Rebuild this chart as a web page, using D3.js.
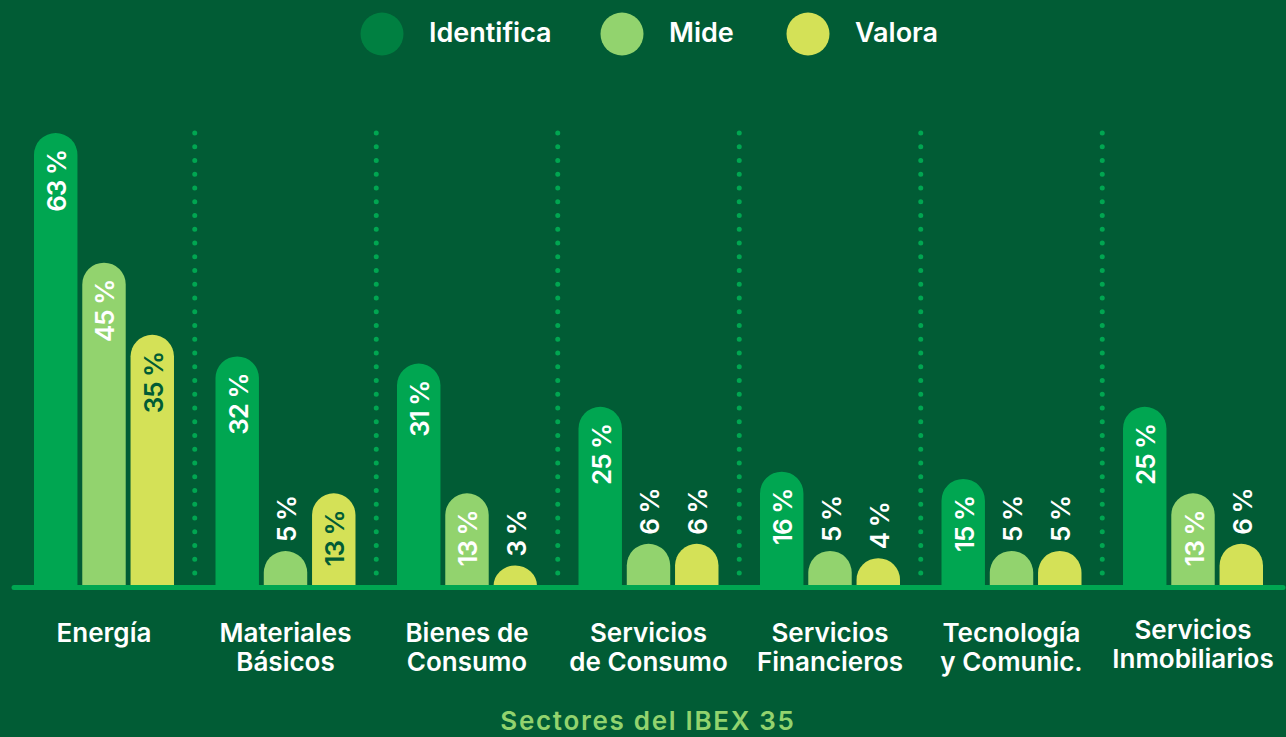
<!DOCTYPE html>
<html><head><meta charset="utf-8">
<script src="https://cdn.jsdelivr.net/npm/d3@7"></script>
<style>
html,body{margin:0;padding:0;background:#015c35;}
svg{display:block;font-family:Inter,"Noto Sans",sans-serif;}
</style></head><body>
<svg id="chart" width="1286" height="737"></svg>
<script>
const categories = [["Energía"],["Materiales","Básicos"],["Bienes de","Consumo"],["Servicios","de Consumo"],["Servicios","Financieros"],["Tecnología","y Comunic."],["Servicios","Inmobiliarios"]];
const seriesNames = ["Identifica","Mide","Valora"];
const identifica = [63,32,31,25,16,15,25];
const mide = [45,5,13,6,5,5,13];
const valora = [35,13,3,6,4,5,6];
const xTitle = "Sectores del IBEX 35";

const seriesValues = [identifica, mide, valora];
const barColors = ["#00a651","#92d36e","#d4e157"];
const legendColors = ["#008041","#92d36e","#d4e157"];
const textInside = ["#ffffff","#ffffff","#015c35"];
const bg = "#015c35";

const svg = d3.select("#chart");
svg.append("rect").attr("width",1286).attr("height",737).attr("fill",bg);

const catKeys = categories.map(c=>c.join(" "));
const x0 = d3.scaleBand().domain(catKeys).range([34,1263]).paddingInner(0.2287).paddingOuter(0);
const x1 = d3.scaleBand().domain(seriesNames).range([0,x0.bandwidth()]).paddingInner(0.1);
const y = d3.scaleLinear().domain([0,63]).range([587,133]);

// separators
const gap = x0.step()-x0.bandwidth();
catKeys.slice(1).forEach(k=>{
  const sx = x0(k)-gap/2;
  svg.append("line").attr("x1",sx).attr("x2",sx).attr("y1",133).attr("y2",582)
    .attr("stroke","#00a651").attr("stroke-width",5).attr("stroke-linecap","round")
    .attr("stroke-dasharray","0 13.75");
});

function barPath(x,w,top,bottom){
  const r = w/2;
  const h = bottom-top;
  if(h>=r){
    return `M${x},${bottom}V${top+r}A${r},${r} 0 0 1 ${x+w},${top+r}V${bottom}Z`;
  } else {
    return `M${x},${bottom}A${r},${h} 0 0 1 ${x+w},${bottom}Z`;
  }
}

const data = [];
catKeys.forEach((k,i)=>seriesNames.forEach((s,j)=>data.push({k,s,j,v:seriesValues[j][i]})));

const g = svg.append("g");
data.forEach(d=>{
  const bx = x0(d.k)+x1(d.s);
  const w = x1.bandwidth();
  const top = y(d.v);
  g.append("path").attr("d",barPath(bx,w,top,y(0)-1)).attr("fill",barColors[d.j]);
  const inside = d.v>=10;
  const cx = bx+w/2;
  const ty = inside ? top+17 : top-9;
  g.append("text")
    .attr("transform",`translate(${cx+1},${ty}) rotate(-90)`)
    .attr("text-anchor",inside?"end":"start")
    .attr("dominant-baseline","central")
    .attr("fill",inside?textInside[d.j]:"#ffffff")
    .attr("font-size",26).attr("font-weight",600).attr("letter-spacing",-1)
    .text(d.v+" %");
});

// baseline
svg.append("line").attr("x1",14).attr("x2",1283).attr("y1",587.5).attr("y2",587.5)
  .attr("stroke","#00a651").attr("stroke-width",5).attr("stroke-linecap","round");

// category labels (one text per line)
catKeys.forEach((k,i)=>{
  const cx = x0(k)+x0.bandwidth()/2;
  const base = i===6?639:642;
  categories[i].forEach((line,li)=>{
    svg.append("text").attr("x",cx).attr("y",base+li*28.5)
      .attr("text-anchor","middle").attr("fill","#ffffff").attr("font-size",26).attr("font-weight",600)
      .text(line);
  });
});

// x title
svg.append("text").attr("x",648).attr("y",730).attr("text-anchor","middle")
  .attr("fill","#92d36e").attr("font-size",26).attr("font-weight",600).attr("letter-spacing",1.7).text(xTitle);

// legend
const legendX = [382,622,808];
seriesNames.forEach((s,j)=>{
  svg.append("circle").attr("cx",legendX[j]).attr("cy",34).attr("r",21.5).attr("fill",legendColors[j]);
  svg.append("text").attr("x",legendX[j]+47).attr("y",41.7)
    .attr("fill","#ffffff").attr("font-size",27).attr("font-weight",600).text(s);
});
</script>
</body></html>
